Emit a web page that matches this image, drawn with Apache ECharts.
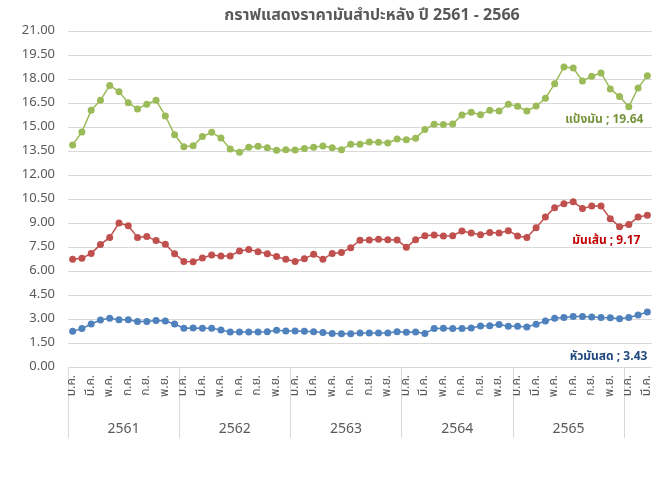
<!DOCTYPE html>
<html>
<head>
<meta charset="utf-8">
<script src="https://cdn.jsdelivr.net/npm/echarts@6/dist/echarts.min.js"></script>
<style>
  html, body { margin: 0; padding: 0; background: #fff; }
  #main { width: 665px; height: 494px; }
</style>
</head>
<body>
<div id="main"></div>
<script>
// ปีและเดือน
const years = ['2561', '2562', '2563', '2564', '2565', '2566']
const months = ['ม.ค.', 'ก.พ.', 'มี.ค.', 'เม.ย.', 'พ.ค.', 'มิ.ย.', 'ก.ค.', 'ส.ค.', 'ก.ย.', 'ต.ค.', 'พ.ย.', 'ธ.ค.']
const monthCount = 63 // ม.ค. 2561 - มี.ค. 2566

// ราคา (บาท/กก.)
const starch = [13.88, 14.69, 16.04, 16.67, 17.60, 17.21, 16.52, 16.13, 16.42, 16.67, 15.69, 14.52,
  13.77, 13.83, 14.40, 14.67, 14.31, 13.63, 13.42, 13.73, 13.79, 13.71, 13.54, 13.58,
  13.56, 13.65, 13.73, 13.81, 13.71, 13.58, 13.92, 13.92, 14.06, 14.04, 14.00, 14.25,
  14.21, 14.29, 14.85, 15.17, 15.15, 15.19, 15.75, 15.92, 15.77, 16.04, 16.00, 16.42,
  16.29, 16.00, 16.31, 16.79, 17.71, 18.75, 18.69, 17.88, 18.17, 18.38, 17.38, 16.90,
  16.27, 17.44, 18.21]
const chips = [6.73, 6.79, 7.10, 7.65, 8.10, 9.00, 8.83, 8.10, 8.15, 7.90, 7.67, 7.08,
  6.60, 6.58, 6.81, 7.00, 6.94, 6.94, 7.25, 7.35, 7.21, 7.08, 6.90, 6.73,
  6.60, 6.77, 7.04, 6.73, 7.10, 7.15, 7.46, 7.92, 7.94, 7.98, 7.96, 7.94,
  7.48, 7.96, 8.21, 8.25, 8.19, 8.21, 8.50, 8.38, 8.27, 8.40, 8.38, 8.52,
  8.19, 8.10, 8.71, 9.37, 9.96, 10.21, 10.33, 9.90, 10.06, 10.06, 9.27, 8.77,
  8.90, 9.38, 9.49]
const fresh = [2.23, 2.40, 2.69, 2.94, 3.04, 2.96, 2.96, 2.85, 2.85, 2.90, 2.88, 2.69,
  2.42, 2.44, 2.42, 2.42, 2.31, 2.19, 2.19, 2.19, 2.19, 2.21, 2.29, 2.25,
  2.25, 2.23, 2.21, 2.15, 2.10, 2.08, 2.08, 2.13, 2.13, 2.13, 2.13, 2.21,
  2.17, 2.19, 2.10, 2.40, 2.42, 2.40, 2.40, 2.44, 2.56, 2.58, 2.65, 2.54,
  2.54, 2.50, 2.67, 2.88, 3.04, 3.10, 3.15, 3.15, 3.13, 3.10, 3.08, 3.02,
  3.10, 3.25, 3.44]

// ป้ายท้ายเส้น
const endText = ['แป้งมัน ; 19.64', 'มันเส้น ; 9.17', 'หัวมันสด ; 3.43']

const font = "Tahoma, 'Noto Sans Thai', 'Leelawadee UI', 'DejaVu Sans', sans-serif"
const grey = '#595959'
const lineGrey = '#d9d9d9'

const monthData = []
for (let i = 0; i < monthCount; i++) monthData.push(months[i % 12])
// แกนปี: จุดขอบ 0..63
const yearData = []
for (let i = 0; i <= monthCount; i++) yearData.push(years[Math.floor(i / 12)] || '')

function withEndLabel(arr, text, color, offset) {
  return arr.map((v, i) => {
    if (i !== arr.length - 1) return v
    return {
      value: v,
      label: {
        show: true,
        position: 'bottom',
        align: 'right',
        offset: offset,
        formatter: text,
        color: color,
        fontWeight: 'bold',
        fontSize: 12,
        fontFamily: font,
      },
    }
  })
}

function lineSeries(name, data, color) {
  return {
    name: name,
    type: 'line',
    data: data,
    symbol: 'circle',
    symbolSize: 7,
    showSymbol: true,
    showAllSymbol: true,
    itemStyle: { color: color },
    lineStyle: { color: color, width: 1.5 },
  }
}

const chart = echarts.init(document.getElementById('main'))
const option = {
  animation: false,
  title: {
    text: 'กราฟแสดงราคามันสำปะหลัง ปี 2561 - 2566',
    left: 367,
    top: 4,
    textAlign: 'center',
    textStyle: { fontSize: 16, fontWeight: 'bold', color: grey, fontFamily: font },
  },
  grid: { left: 68, right: 13, top: 31, bottom: 127 },
  xAxis: [
    {
      type: 'category',
      data: monthData,
      boundaryGap: true,
      axisLine: { show: true, lineStyle: { color: lineGrey } },
      axisTick: { show: false },
      axisLabel: {
        interval: 1,
        rotate: 90,
        margin: 8,
        fontSize: 12,
        color: grey,
        fontFamily: font,
      },
    },
    {
      type: 'category',
      data: yearData,
      boundaryGap: false,
      position: 'bottom',
      axisLine: { show: false },
      axisTick: {
        show: true,
        length: 71,
        interval: (i) => i % 12 === 0 && i < monthCount,
        lineStyle: { color: lineGrey },
      },
      axisLabel: {
        margin: 56,
        fontSize: 14,
        color: grey,
        fontFamily: font,
        interval: (i) => i % 12 === 6 && i + 6 <= monthCount,
      },
    },
  ],
  yAxis: {
    type: 'value',
    min: 0,
    max: 21,
    interval: 1.5,
    axisLine: { show: false },
    axisTick: { show: false },
    axisLabel: {
      margin: 13,
      fontSize: 13,
      color: grey,
      fontFamily: font,
      formatter: (v) => v.toFixed(2),
    },
    splitLine: { lineStyle: { color: lineGrey } },
  },
  series: [
    lineSeries('แป้งมัน', withEndLabel(starch, endText[0], '#77933C', [-4, 30]), '#9BBB59'),
    lineSeries('มันเส้น', withEndLabel(chips, endText[1], '#C00000', [-7, 12]), '#C0504D'),
    lineSeries('หัวมันสด', withEndLabel(fresh, endText[2], '#1F497D', [0, 31]), '#4F81BD'),
  ],
}
chart.setOption(option)
</script>
</body>
</html>
